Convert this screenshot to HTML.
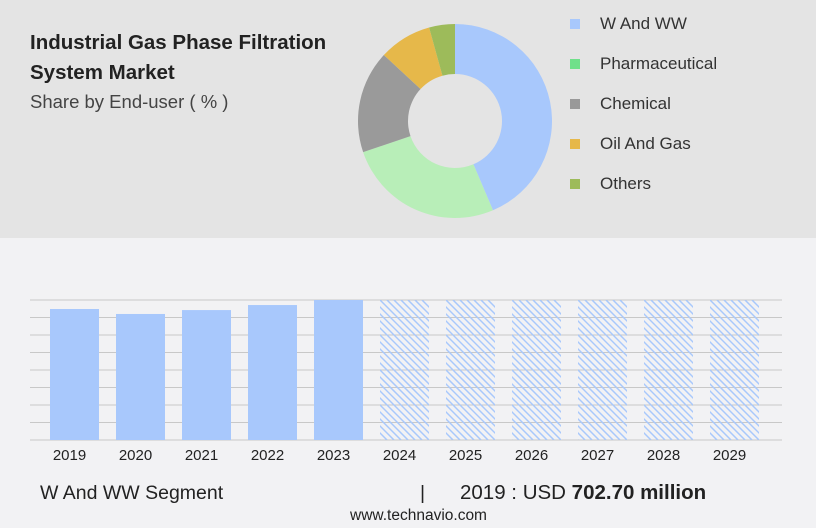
<!DOCTYPE html>
<html><head><meta charset="utf-8"><style>
body{margin:0;width:816px;height:528px;background:#f2f2f4;font-family:"Liberation Sans",sans-serif;overflow:hidden;position:relative}
.top{position:absolute;left:0;top:0;width:816px;height:238px;background:#e4e4e4}
.t{position:absolute;left:30px;top:28px;font-weight:bold;font-size:20.5px;line-height:30px;color:#222}
.s{position:absolute;left:30px;top:91px;font-size:18.5px;color:#444}
.leg{position:absolute;left:570px;font-size:17px;color:#333;line-height:20px}
.leg i{display:inline-block;width:10px;height:10px;margin-right:20px}
.foot{position:absolute;top:482px;font-size:19.5px;color:#222}
</style></head><body>
<div class="top"></div>
<div class="t">Industrial Gas Phase Filtration<br>System Market</div>
<div class="s">Share by End-user ( % )</div>
<svg id="donut" width="816" height="528" style="position:absolute;left:0;top:0"></svg>
<div class="leg" style="top:14px"><i style="background:#a8c8fc"></i>W And WW</div>
<div class="leg" style="top:54px"><i style="background:#6fe08a"></i>Pharmaceutical</div>
<div class="leg" style="top:94px"><i style="background:#999"></i>Chemical</div>
<div class="leg" style="top:134px"><i style="background:#e6b84a"></i>Oil And Gas</div>
<div class="leg" style="top:174px"><i style="background:#9dbb5a"></i>Others</div>
<svg id="bars" width="816" height="528" style="position:absolute;left:0;top:0"><defs id="defs"></defs></svg>
<div class="foot" style="left:40px">W And WW Segment</div>
<div class="foot" style="left:420px">|</div>
<div class="foot" style="left:460px;font-size:20.5px;top:481px">2019 : USD <b>702.70 million</b></div>
<div style="position:absolute;left:350px;top:507px;font-size:15.5px;color:#222">www.technavio.com</div>
<script>
const sliceNames=["W And WW","Pharmaceutical","Chemical","Oil And Gas","Others"];
const sliceValues=[43.6,26.2,17.1,8.8,4.3];
const sliceColors=["#a8c8fc","#b8eeb8","#9a9a9a","#e6b84a","#9dbb5a"];
const years=["2019","2020","2021","2022","2023","2024","2025","2026","2027","2028","2029"];
const values=[702.7,676,697,724,751];
{
const NS="http://www.w3.org/2000/svg";
const d=document.getElementById("donut");
const cx=455,cy=121,R=97,r=47;
let tot=sliceValues.reduce((a,b)=>a+b,0),acc=0;
sliceValues.forEach((v,i)=>{
 const a0=acc/tot*2*Math.PI;acc+=v;const a1=acc/tot*2*Math.PI;
 const p=(a,rr)=>[cx+rr*Math.sin(a),cy-rr*Math.cos(a)];
 const [x0,y0]=p(a0,R),[x1,y1]=p(a1,R),[x2,y2]=p(a1,r),[x3,y3]=p(a0,r);
 const lg=a1-a0>Math.PI?1:0;
 const el=document.createElementNS(NS,"path");
 el.setAttribute("d",`M${x0},${y0}A${R},${R} 0 ${lg} 1 ${x1},${y1}L${x2},${y2}A${r},${r} 0 ${lg} 0 ${x3},${y3}Z`);
 el.setAttribute("fill",sliceColors[i]);
 
 
 d.appendChild(el);
});
const b=document.getElementById("bars");
const defs=document.getElementById("defs");
const base=440,plotTop=300,ymax=751;
const y=v=>base-(v/ymax)*(base-plotTop);
const x=i=>50+i*66;
for(let k=0;k<=8;k++){
 const l=document.createElementNS(NS,"line");
 const gy=plotTop+k*(base-plotTop)/8;
 l.setAttribute("x1",30);l.setAttribute("x2",782);l.setAttribute("y1",gy);l.setAttribute("y2",gy);
 l.setAttribute("stroke","#c8c8c8");l.setAttribute("stroke-width","1");
 
 
 b.appendChild(l);
}
years.forEach((yr,i)=>{
 const hasV=i<values.length;
 const v=hasV?values[i]:ymax;
 const bx=x(i),by=y(v),bh=base-y(v);
 if(hasV){
  const rc=document.createElementNS(NS,"rect");
  rc.setAttribute("x",bx);rc.setAttribute("width",49);
  rc.setAttribute("y",by);rc.setAttribute("height",bh);
  rc.setAttribute("fill","#a8c8fc");
  
  
  b.appendChild(rc);
 } else {
  const cp=document.createElementNS(NS,"clipPath");
  cp.setAttribute("id","c"+i);
  const cr=document.createElementNS(NS,"rect");
  cr.setAttribute("x",bx);cr.setAttribute("y",by);cr.setAttribute("width",49);cr.setAttribute("height",bh);
  cp.appendChild(cr);defs.appendChild(cp);
  const g=document.createElementNS(NS,"g");
  g.setAttribute("clip-path","url(#c"+i+")");
  
  
  let dd="";
  for(let a=bx-bh;a<bx+49;a+=7){dd+=`M${a},${by}L${a+bh},${base}`;}
  const pth=document.createElementNS(NS,"path");
  pth.setAttribute("d",dd);pth.setAttribute("stroke","#a8c8fc");pth.setAttribute("stroke-width","1.5");pth.setAttribute("fill","none");
  g.appendChild(pth);
  b.appendChild(g);
 }
 const t=document.createElementNS(NS,"text");
 t.setAttribute("x",bx+19.5);t.setAttribute("y",460);t.setAttribute("text-anchor","middle");
 t.setAttribute("font-size","15");t.setAttribute("fill","#222");t.setAttribute("font-family","Liberation Sans, sans-serif");
 t.textContent=yr;
 
 
 b.appendChild(t);
});
}
</script>
</body></html>
